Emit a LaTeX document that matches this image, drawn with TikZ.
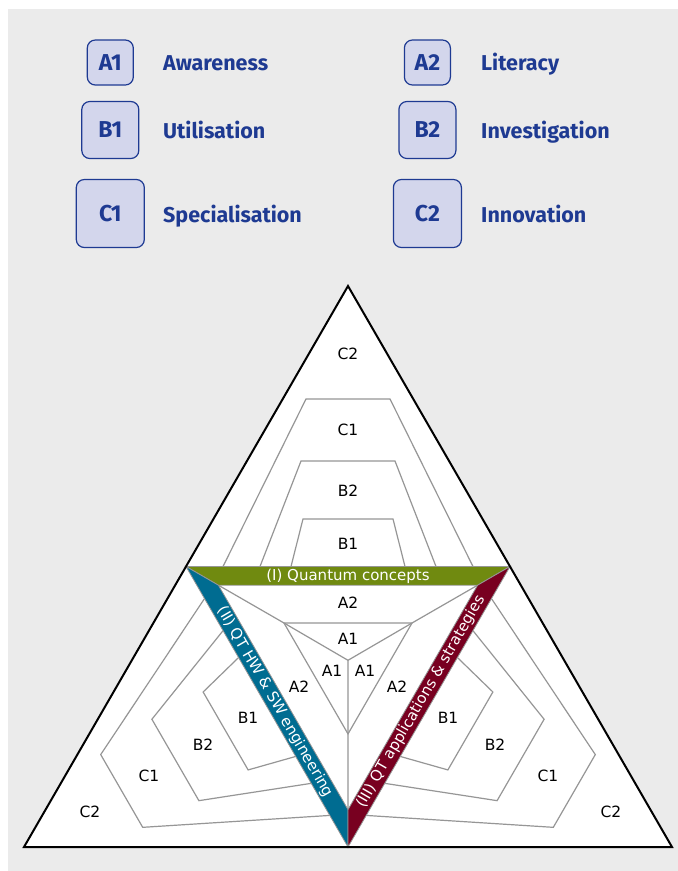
\documentclass[tikz,border=0pt]{standalone}
\usepackage{fontspec}
\setmainfont{DejaVu Sans}
\newfontfamily\legendfont{Fira Sans}
\definecolor{bggray}{RGB}{235,235,235}
\definecolor{ecblue}{RGB}{30,58,146}
\definecolor{boxfill}{RGB}{211,214,236}
\definecolor{conceptgreen}{RGB}{112,138,16}
\definecolor{hwblue}{RGB}{0,108,145}
\definecolor{appred}{RGB}{120,0,32}
\definecolor{tiergray}{RGB}{150,150,150}
\begin{document}
\begin{tikzpicture}[
    x=1pt, y=-1pt,
    levelbox/.style={rectangle, rounded corners=8pt, draw=ecblue, line width=1.2pt, fill=boxfill, text=ecblue, inner sep=0pt, font=\legendfont\bfseries\fontsize{23}{26}\selectfont},
    leveltext/.style={anchor=base west, text=ecblue, inner sep=0pt, font=\legendfont\bfseries\fontsize{21.5}{25}\selectfont},
    tierline/.style={draw=tiergray, line width=1.2pt},
    tier/.style={inner sep=0pt, font=\fontsize{15.5}{18}\selectfont},
    band/.style={draw=tiergray, line width=0.8pt},
    bandtext/.style={text=white, inner sep=0pt, font=\fontsize{15}{18}\selectfont}
  ]
    % Background
    \fill[bggray] (8,9) rectangle (678,871);
    \useasboundingbox (0,0) rectangle (678,871);

    % Legend
    \node[levelbox, minimum width=46pt, minimum height=45pt] (a1) at (110.3,62.5) {A1};
    \node[levelbox, minimum width=57pt, minimum height=57pt] (b1) at (110.3,130) {B1};
    \node[levelbox, minimum width=68pt, minimum height=68pt] (c1) at (110.3,213.5) {C1};
    \node[levelbox, minimum width=46pt, minimum height=45pt] (a2) at (427.4,62.5) {A2};
    \node[levelbox, minimum width=57pt, minimum height=57pt] (b2) at (427.4,130) {B2};
    \node[levelbox, minimum width=68pt, minimum height=68pt] (c2) at (427.4,213.5) {C2};
    \node[leveltext] (a1-name) at (163,70) {Awareness};
    \node[leveltext] (b1-name) at (163,138) {Utilisation};
    \node[leveltext] (c1-name) at (163,222) {Specialisation};
    \node[leveltext] (a2-name) at (481,70) {Literacy};
    \node[leveltext] (b2-name) at (481,138) {Investigation};
    \node[leveltext] (c2-name) at (481,222) {Innovation};

    % Triangle
    \coordinate (apex) at (348,286);
    \coordinate (left) at (24,847);
    \coordinate (right) at (672,847);
    \coordinate (c) at (348,660.3);
    \fill[white] (apex) -- (left) -- (right) -- cycle;

    % Outer levels, one sector turned three times
    \foreach \ang in {0,120,240} {
      \begin{scope}[rotate around={\ang:(c)}]
        \draw[tierline] (223,566.5) -- (306,399) -- (390,399) -- (473,566.5);
        \draw[tierline] (260,566.5) -- (301,461) -- (395,461) -- (436,566.5);
        \draw[tierline] (291,566.5) -- (303,519) -- (393,519) -- (405,566.5);
      \end{scope}
    }

    % Inner levels
    \coordinate (ml) at (186,566.5);
    \coordinate (mr) at (510,566.5);
    \coordinate (mb) at (348,847);
    \coordinate (il) at (218.4,585.2);
    \coordinate (ir) at (477.6,585.2);
    \coordinate (ib) at (348,809.6);
    \coordinate (sl) at (284,623);
    \coordinate (sr) at (412,623);
    \coordinate (sb) at (348,733.9);
    \draw[tierline] (sl) -- (sr) -- (sb) -- cycle;
    \draw[tierline] (il) -- (sl) -- (c) (ir) -- (sr) -- (c) (ib) -- (sb) -- (c);

    % Bands
    \filldraw[band, fill=conceptgreen] (ml) -- (mr) -- (ir) -- (il) -- cycle;
    \filldraw[band, fill=hwblue] (ml) -- (il) -- (ib) -- (mb) -- cycle;
    \filldraw[band, fill=appred] (mr) -- (mb) -- (ib) -- (ir) -- cycle;
    \node[bandtext] (concepts) at (348,576) {(I) Quantum concepts};
    \node[bandtext, rotate=-60] (hwsw) at (275,702) {(II) QT HW \& SW engineering};
    \node[bandtext, rotate=60] (apps) at (421,702) {(III) QT applications \& strategies};

    % Level names
    \node[tier] (top-c2) at (348,354) {C2};
    \node[tier] (top-c1) at (348,430) {C1};
    \node[tier] (top-b2) at (348,491) {B2};
    \node[tier] (top-b1) at (348,544) {B1};
    \node[tier] (left-c2) at (90,812) {C2};
    \node[tier] (left-c1) at (149,776) {C1};
    \node[tier] (left-b2) at (203,745) {B2};
    \node[tier] (left-b1) at (248,718) {B1};
    \node[tier] (right-c2) at (611,812) {C2};
    \node[tier] (right-c1) at (548,776) {C1};
    \node[tier] (right-b2) at (495,745) {B2};
    \node[tier] (right-b1) at (448,718) {B1};
    \node[tier] (top-a2) at (348,603) {A2};
    \node[tier] (top-a1) at (348,639) {A1};
    \node[tier] (left-a1) at (332,671) {A1};
    \node[tier] (right-a1) at (365,671) {A1};
    \node[tier] (left-a2) at (299,687) {A2};
    \node[tier] (right-a2) at (397,687) {A2};

    % Outline
    \draw[line width=2pt] (apex) -- (left) -- (right) -- cycle;
  \end{tikzpicture}
\end{document}
